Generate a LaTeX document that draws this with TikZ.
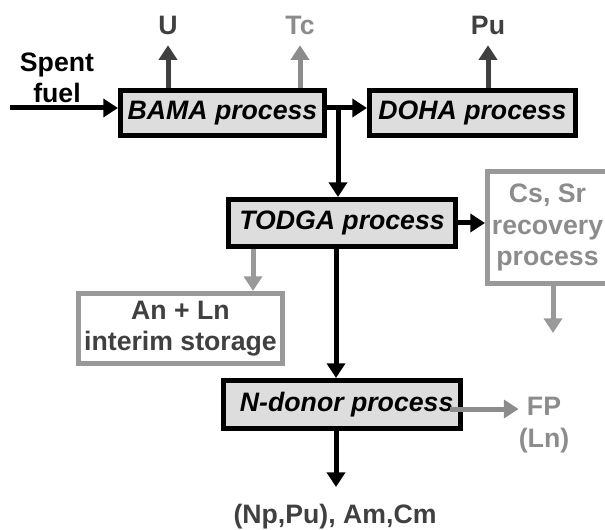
\documentclass[tikz,border=0pt]{standalone}
\usepackage{fontspec}
\setmainfont{Liberation Sans}
\usetikzlibrary{arrows.meta,calc}
\definecolor{dgrey}{HTML}{404040}
\definecolor{mgrey}{HTML}{8C8C8C}
\definecolor{lgrey}{HTML}{999999}
\definecolor{boxfill}{HTML}{DDDDDD}
\begin{document}
\begin{tikzpicture}[x=0.75pt,y=-0.75pt,
 proc/.style={draw=black, line width=4pt, fill=boxfill, inner sep=0pt, font=\bfseries\itshape\fontsize{20}{24}\selectfont},
 gbox/.style={draw=lgrey, line width=4pt, fill=white, inner sep=0pt, align=center, font=\bfseries\fontsize{20}{23.5}\selectfont},
 lbl/.style={inner sep=0pt, align=center, font=\bfseries\fontsize{20}{23.5}\selectfont},
 arr/.style={line width=3.75pt, -{Triangle[length=11pt,width=13.5pt]}},
]
\useasboundingbox (0,0) rectangle (605,530);
\clip (0,0) rectangle (605,530);
% process boxes
\node[proc, minimum width=152.8pt, minimum height=33.5pt] (bama) at (222.5,113) {BAMA process};
\node[proc, minimum width=154.3pt, minimum height=33.5pt] (doha) at (472.5,113) {DOHA process};
\node[proc, minimum width=170pt, minimum height=35pt] (todga) at (342,223) {TODGA process};
\node[proc, minimum width=177.5pt, minimum height=35.8pt] (ndonor) at (342,404.5) {\hspace{7pt}N-donor process};
\node[gbox, text=dgrey, minimum width=152.8pt, minimum height=52.3pt] (store) at (180.5,328.5) {An + Ln\\interim storage};
\node[gbox, text=mgrey, minimum width=89.8pt, minimum height=83.8pt] (cssr) at (547.5,227.5) {Cs, Sr\\recovery\\process};
% labels
\node[lbl, text=dgrey] (U) at (168,25) {U};
\node[lbl, text=mgrey] (Tc) at (300,25) {Tc};
\node[lbl, text=dgrey] (Pu) at (488,25) {Pu};
\node[lbl] (fuel) at (57,78) {Spent\\fuel};
\node[lbl, text=mgrey] (fp) at (544,425) {FP\\(Ln)};
\node[lbl, text=dgrey] (prod) at (335,517) {(Np,Pu), Am,Cm};
% coordinates
\coordinate (fstart) at (10,108);
\coordinate (j) at (338,108);
\coordinate (v) at (336,0);
\coordinate (g) at (253,0);
\coordinate (c) at (553,0);
\coordinate (cend) at (553,333);
\coordinate (pend) at (336,487);
\coordinate (fy) at (450,409);
% connectors
\draw[arr] (fstart) -- (fstart -| bama.west);
\draw[arr, dgrey] (U |- bama.north) -- ([yshift=-8pt]U.south);
\draw[arr, mgrey] (Tc |- bama.north) -- ([yshift=-8pt]Tc.south);
\draw[arr, dgrey] (Pu |- doha.north) -- ([yshift=-8pt]Pu.south);
\draw[arr] (j -| bama.east) -- (j -| doha.west);
\draw[arr] ([yshift=1.8pt]j) -- (j |- todga.north);
\draw[arr] (todga.east) -- (todga.east -| cssr.west);
\draw[arr, lgrey] (g |- todga.south) -- (g |- store.north);
\draw[arr, lgrey] (c |- cssr.south) -- (cend);
\draw[arr] (v |- todga.south) -- (v |- ndonor.north);
\draw[arr] (v |- ndonor.south) -- (pend);
\draw[arr, mgrey] (fy) -- (fy -| fp.west);
\end{tikzpicture}
\end{document}
